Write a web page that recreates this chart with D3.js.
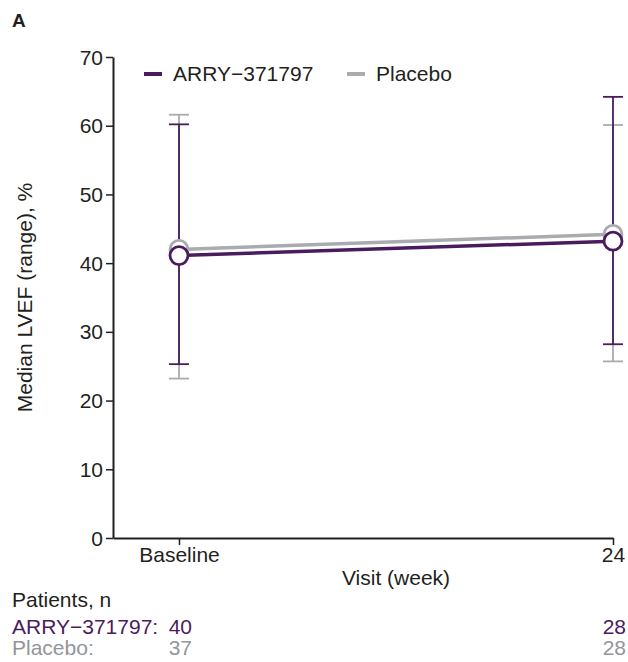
<!DOCTYPE html>
<html>
<head>
<meta charset="utf-8">
<script src="https://cdn.jsdelivr.net/npm/d3@7"></script>
<style>
  body { margin: 0; background: #fff; }
  svg text { font-family: "Liberation Sans", Arial, sans-serif; }
</style>
</head>
<body>
<div id="chart"></div>
<script>
// visits (weeks) and labels
const visits = [0, 24];
const visitLabels = ["Baseline", "24"];

// medians and ranges
const arryMedian = [41.1, 43.2];
const arryMin = [25.3, 28.2];
const arryMax = [60.2, 64.2];
const placeboMedian = [42.0, 44.2];
const placeboMin = [23.2, 25.7];
const placeboMax = [61.6, 60.1];

const arryN = [40, 28];
const placeboN = [37, 28];
const yTicks = [0, 10, 20, 30, 40, 50, 60, 70];

const purple = "#4a1c5e";
const gray = "#a9abae";
const ink = "#231f20";
const fs = "21px";

const W = 628, H = 662;
const svg = d3.select("#chart").append("svg")
  .attr("width", W).attr("height", H);

const x = d3.scaleLinear().domain([-3.65, 24]).range([113, 613]);
const y = d3.scaleLinear().domain([0, 70]).range([538, 57]);

// axes
const yAxis = svg.append("g")
  .attr("transform", "translate(" + x(-3.65) + ",0)")
  .call(d3.axisLeft(y).tickValues(yTicks).tickSize(7).tickSizeOuter(0));
const xAxis = svg.append("g")
  .attr("transform", "translate(0," + y(0) + ")")
  .call(d3.axisBottom(x).tickValues(visits).tickSize(7).tickSizeOuter(0)
    .tickFormat((d, i) => visitLabels[i]));

[yAxis, xAxis].forEach(function (a) {
  a.select(".domain").attr("stroke", ink).attr("stroke-width", 2);
  a.selectAll(".tick line").attr("stroke", ink).attr("stroke-width", 1.5);
  a.selectAll(".tick text").attr("fill", ink).style("font-size", fs);
});
yAxis.selectAll(".tick text").attr("x", -10).attr("dy", "0.34em");
xAxis.selectAll(".tick text").attr("y", 9);

// axis titles
svg.append("text")
  .attr("transform", "translate(32," + y(35) + ") rotate(-90)")
  .attr("text-anchor", "middle")
  .attr("fill", ink).style("font-size", fs)
  .text("Median LVEF (range), %");
svg.append("text")
  .attr("x", 396).attr("y", 585)
  .attr("text-anchor", "middle")
  .attr("fill", ink).style("font-size", fs)
  .text("Visit (week)");

svg.append("text")
  .attr("x", 12).attr("y", 27)
  .attr("fill", ink).style("font-size", "19px").style("font-weight", "bold")
  .text("A");

function series(median, lo, hi) {
  return visits.map((v, i) => ({ v: v, m: median[i], lo: lo[i], hi: hi[i] }));
}
const arry = series(arryMedian, arryMin, arryMax);
const placebo = series(placeboMedian, placeboMin, placeboMax);

function errorBars(data, color) {
  const g = svg.append("g").attr("stroke", color).attr("stroke-width", 1.8);
  g.selectAll("line.v").data(data).enter().append("line")
    .attr("x1", d => x(d.v)).attr("x2", d => x(d.v))
    .attr("y1", d => y(d.lo)).attr("y2", d => y(d.hi));
  ["lo", "hi"].forEach(function (k) {
    g.selectAll("line." + k).data(data).enter().append("line")
      .attr("x1", d => x(d.v) - 10).attr("x2", d => x(d.v) + 10)
      .attr("y1", d => y(d[k])).attr("y2", d => y(d[k]));
  });
}
errorBars(placebo, gray);
errorBars(arry, purple);

const line = d3.line().x(d => x(d.v)).y(d => y(d.m));
svg.append("path").datum(placebo).attr("d", line)
  .attr("fill", "none").attr("stroke", gray).attr("stroke-width", 3.5);
svg.append("path").datum(arry).attr("d", line)
  .attr("fill", "none").attr("stroke", purple).attr("stroke-width", 3.5);

function dots(data, color) {
  svg.append("g").selectAll("circle").data(data).enter().append("circle")
    .attr("cx", d => x(d.v)).attr("cy", d => y(d.m)).attr("r", 9)
    .attr("fill", "#fff").attr("stroke", color).attr("stroke-width", 2.8);
}
dots(placebo, gray);
dots(arry, purple);

// legend
const legend = [
  { label: "ARRY\u2212371797", color: purple, x: 144 },
  { label: "Placebo", color: gray, x: 347 }
];
const lg = svg.append("g");
legend.forEach(function (d) {
  lg.append("line").attr("x1", d.x).attr("x2", d.x + 18)
    .attr("y1", 74).attr("y2", 74)
    .attr("stroke", d.color).attr("stroke-width", 4);
  lg.append("text").attr("x", d.x + 29).attr("y", 81)
    .attr("fill", ink).style("font-size", "21px").text(d.label);
});

// patients at risk table
svg.append("text").attr("x", 12).attr("y", 607)
  .attr("fill", ink).style("font-size", fs).text("Patients, n");
const rows = [
  { label: "ARRY\u2212371797:", n: arryN, color: purple, y: 634 },
  { label: "Placebo:", n: placeboN, color: "#939598", y: 655 }
];
rows.forEach(function (r) {
  svg.append("text").attr("x", 12).attr("y", r.y)
    .attr("fill", r.color).style("font-size", fs).text(r.label);
  svg.append("text").attr("x", 192).attr("y", r.y).attr("text-anchor", "end")
    .attr("fill", r.color).style("font-size", fs).text(r.n[0]);
  svg.append("text").attr("x", x(24) + 13).attr("y", r.y).attr("text-anchor", "end")
    .attr("fill", r.color).style("font-size", fs).text(r.n[1]);
});
</script>
</body>
</html>
